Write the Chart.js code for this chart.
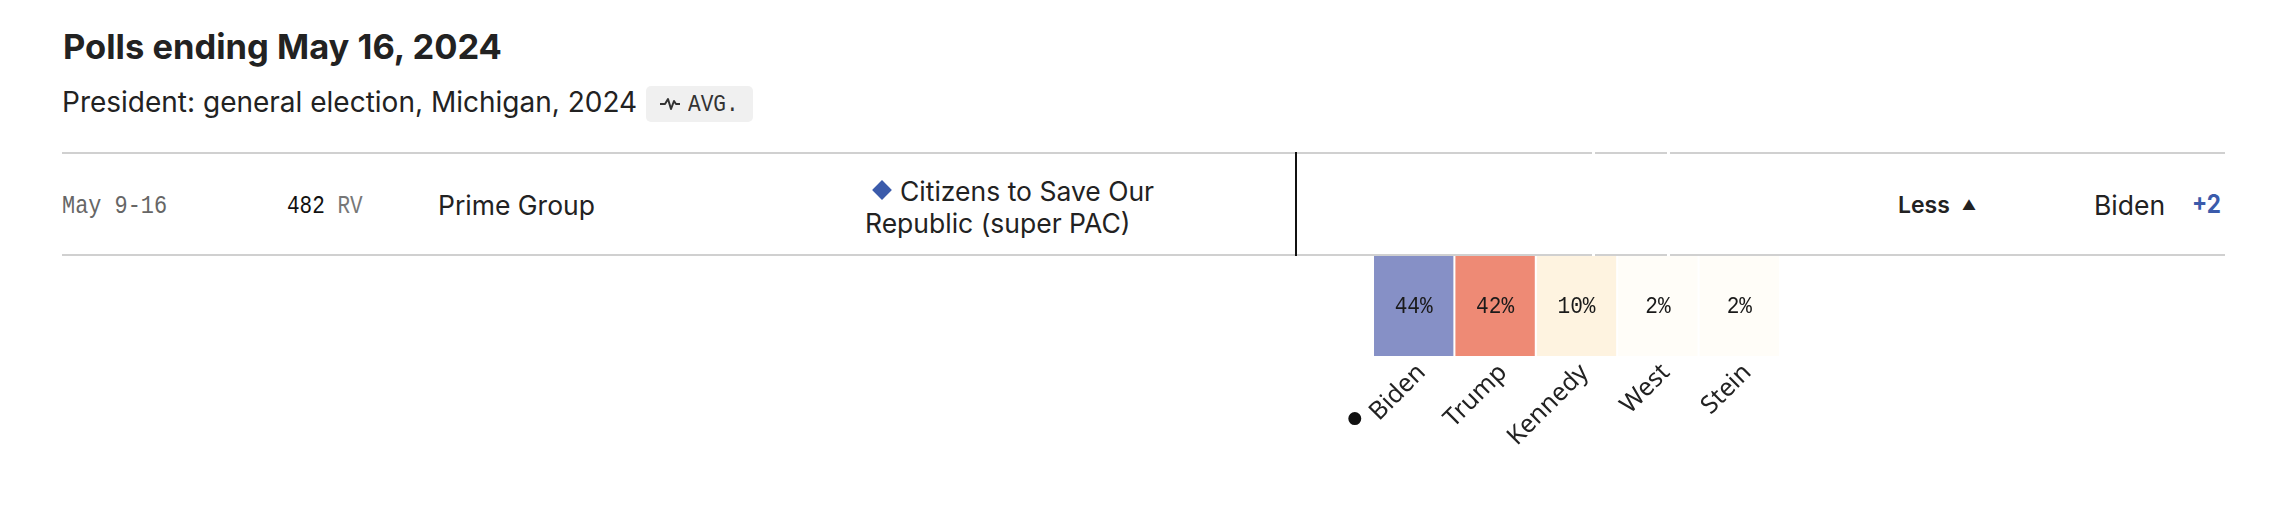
<!DOCTYPE html>
<html>
<head>
<meta charset="utf-8">
<script src="https://cdn.jsdelivr.net/npm/chart.js@4"></script>
<style>
    html, body { margin: 0; padding: 0; background: #fff; }
    body { width: 2276px; height: 524px; position: relative; overflow: hidden; font-family: Inter, "Liberation Sans", sans-serif; color: #222; }
    .abs { position: absolute; white-space: nowrap; line-height: 1; }
    .mono { font-family: "Liberation Mono", "DejaVu Sans Mono", monospace; transform-origin: 0 50%; }
    .hline { position: absolute; height: 2px; background: #d0d0d0; }
    #cells { position: absolute; left: 1300px; top: 256px; }
</style>
</head>
<body>
<div class="abs" id="title" style="left:63px; top:30px; font-size:34.5px; font-weight:700;"></div>
<div class="abs" id="subtitle" style="left:62px; top:88px; font-size:28px;"></div>
<div class="abs" style="left:646px; top:86px; width:107px; height:36px; background:#f0f0f0; border-radius:5px;">
    <svg style="position:absolute; left:14px; top:11px;" width="20" height="14" viewBox="0 0 20 14">
        <polyline points="0,7 5,7 8,2 11,12 14,4 16,7 20,7" fill="none" stroke="#333" stroke-width="2" stroke-linejoin="round"/>
    </svg>
    <div class="abs mono" id="avg" style="left:42px; top:7px; font-size:24px; color:#333; transform:scaleX(0.88);"></div>
</div>

<div class="hline" style="left:62px; top:152px; width:1530px;"></div>
<div class="hline" style="left:1595px; top:152px; width:72px;"></div>
<div class="hline" style="left:1670px; top:152px; width:555px;"></div>
<div class="hline" style="left:62px; top:254px; width:1530px;"></div>
<div class="hline" style="left:1595px; top:254px; width:72px;"></div>
<div class="hline" style="left:1670px; top:254px; width:555px;"></div>
<div style="position:absolute; left:1295px; top:152px; width:2px; height:104px; background:#111;"></div>

<div class="abs mono" id="dates" style="left:62px; top:194px; font-size:25px; color:#666; transform:scaleX(0.875);"></div>
<div class="abs mono" style="left:287px; top:194px; font-size:25px; transform:scaleX(0.84);"><span id="sample" style="color:#111;"></span> <span id="pop" style="color:#777;"></span></div>
<div class="abs" id="pollster" style="left:438px; top:192px; font-size:26.5px;"></div>
<div style="position:absolute; left:875px; top:183px; width:14px; height:14px; background:#3b5bab; transform:rotate(45deg);"></div>
<div class="abs" id="sponsor1" style="left:900px; top:178px; font-size:26.5px;"></div>
<div class="abs" id="sponsor2" style="left:865px; top:210px; font-size:26.5px;"></div>
<div class="abs" style="left:1898px; top:194px; font-size:23px; font-weight:600;">Less <span style="font-size:14px; position:relative; top:-3px; margin-left:6px;">&#9650;</span></div>
<div class="abs" id="winner" style="left:2094px; top:192px; font-size:26.5px;"></div>
<div class="abs" id="margin" style="left:2192px; top:192px; font-size:25px; font-weight:700; color:#3b5bab; transform:scaleX(0.9); transform-origin:0 50%;"></div>

<canvas id="cells" width="560" height="268"></canvas>

<script>
// poll row data
const titleText = 'Polls ending May 16, 2024';
const subtitleText = 'President: general election, Michigan, 2024';
const pollDates = 'May 9-16';
const sampleSize = '482';
const population = 'RV';
const pollster = 'Prime Group';
const sponsorLines = ['Citizens to Save Our', 'Republic (super PAC)'];
const leader = 'Biden';
const leadMargin = 2;

// cells
const candidates = ['Biden', 'Trump', 'Kennedy', 'West', 'Stein'];
const pollValues = [44, 42, 10, 2, 2];
const cellColors = ['#8690c6', '#ee8a75', '#fef3e0', '#fffdf8', '#fffdf8'];
const cellSpan = [0, 1];

const tickFont = { family: '"Noto Sans", sans-serif', size: 25 };

document.getElementById('title').textContent = titleText;
document.getElementById('subtitle').textContent = subtitleText;
document.getElementById('avg').textContent = 'AVG.';
document.getElementById('dates').textContent = pollDates;
document.getElementById('sample').textContent = sampleSize;
document.getElementById('pop').textContent = population;
document.getElementById('pollster').textContent = pollster;
document.getElementById('sponsor1').textContent = sponsorLines[0];
document.getElementById('sponsor2').textContent = sponsorLines[1];
document.getElementById('winner').textContent = leader;
document.getElementById('margin').textContent = '+' + leadMargin;

// write the percentage in the middle of every cell
const cellLabels = {
    id: 'cellLabels',
    afterDatasetsDraw(chart) {
        const ctx = chart.ctx;
        const bars = chart.getDatasetMeta(0).data;
        ctx.save();
        ctx.font = '24px "Liberation Mono", monospace';
        ctx.fillStyle = '#1a1a1a';
        ctx.textAlign = 'center';
        ctx.textBaseline = 'middle';
        bars.forEach((bar, i) => {
            const y = (bar.y + bar.base) / 2;
            ctx.save();
            ctx.translate(bar.x, y + 1);
            ctx.scale(0.88, 1);
            ctx.fillText(pollValues[i] + '%', 0, 0);
            ctx.restore();
        });
        ctx.restore();
    }
};

// dot in front of the leading candidate's name
const leaderDot = {
    id: 'leaderDot',
    afterDraw(chart) {
        const xs = chart.scales.x;
        const idx = candidates.indexOf(leader);
        const item = xs.getLabelItems()[idx];
        if (!item) return;
        const ctx = chart.ctx;
        const [tx, ty] = item.options.translation;
        ctx.save();
        ctx.font = tickFont.size + 'px ' + tickFont.family;
        const w = ctx.measureText(leader).width;
        ctx.translate(tx, ty);
        ctx.rotate(item.options.rotation);
        ctx.beginPath();
        ctx.arc(-(w + 15), 3, 6.5, 0, Math.PI * 2);
        ctx.fillStyle = '#111';
        ctx.fill();
        ctx.restore();
    }
};

new Chart(document.getElementById('cells'), {
    type: 'bar',
    data: {
        labels: candidates,
        datasets: [{
            data: candidates.map(() => cellSpan),
            backgroundColor: cellColors,
            borderWidth: 0,
            barPercentage: 0.975,
            categoryPercentage: 1
        }]
    },
    options: {
        responsive: false,
        animation: false,
        layout: { padding: { left: 73, right: 80, top: 0, bottom: 0 } },
        plugins: { legend: { display: false }, tooltip: { enabled: false } },
        scales: {
            x: {
                grid: { display: false },
                border: { display: false },
                afterFit: (scale) => { scale.height = 168; },
                ticks: {
                    minRotation: 45,
                    maxRotation: 45,
                    padding: -6,
                    labelOffset: 8,
                    color: '#222',
                    font: tickFont
                }
            },
            y: { display: false, min: 0, max: 1 }
        }
    },
    plugins: [cellLabels, leaderDot]
});
</script>
</body>
</html>
